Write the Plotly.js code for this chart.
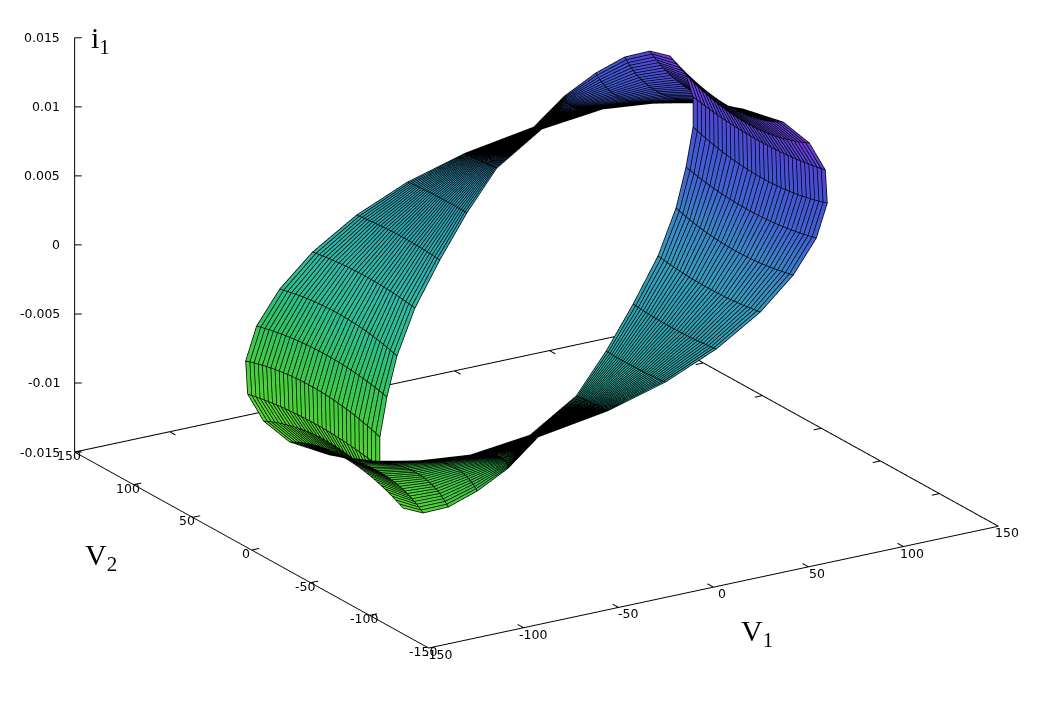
<!DOCTYPE html>
<html><head><meta charset="utf-8">
<script src="https://cdn.plot.ly/plotly-3.0.1.min.js"></script>
<style>html,body{margin:0;padding:0;background:#fff}#plot{width:1050px;height:716px}</style>
</head><body><div id="plot"></div>
<script>
const sectionV1=[40,25,5,-15,-35,-48,-56,-62,-64,-67,-72,-78,-80,-72,-56,-40,-25,-5,15,35,48,56,62,64,67,72,78,80,72,56,40];
const edgeAV2=[66.7,100.3,117.2,128.3,133.4,140.4,147.1,146.7,141.8,123.4,93.2,49.5,16.6,-8.8,-33.9,-59.0,-73.9,-67.1,-57.8,-46.7,-41.0,-36.6,-32.9,-29.7,-18.9,2.8,29.5,54.0,65.7,66.2,66.7];
const middleV2=[63.3,88.4,92.6,92.6,89.2,88.6,91.0,89.8,85.7,71.5,46.5,4.5,-25.9,-42.7,-57.7,-62.4,-88.4,-92.6,-92.6,-89.2,-88.6,-91.0,-89.8,-85.7,-71.5,-46.5,-4.5,25.9,42.7,57.7,63.3];
const edgeBV2=[59.9,73.9,67.1,57.8,46.7,41.0,36.6,32.9,29.7,18.9,-2.8,-29.5,-54.0,-65.7,-66.2,-65.8,-100.3,-117.2,-128.3,-133.4,-140.4,-147.1,-146.7,-141.8,-123.4,-93.2,-49.5,-16.6,8.8,33.9,59.9];
const edgeAI1=[.00689,.00386,.00156,-.00078,-.00311,-.00574,-.00850,-.01084,-.01294,-.01394,-.01388,-.01258,-.01140,-.01051,-.00928,-.00712,-.00402,-.00168,.00070,.00307,.00589,.00841,.01096,.01293,.01392,.01412,.01304,.01139,.00991,.00870,.00689];
const middleI1=[.00699,.00385,.00170,-.00054,-.00275,-.00517,-.00780,-.01003,-.01239,-.01286,-.01283,-.01183,-.01019,-.00912,-.00822,-.00703,-.00385,-.00170,.00054,.00275,.00517,.00780,.01003,.01239,.01286,.01283,.01183,.01019,.00912,.00822,.00699];
const edgeBI1=[.00707,.00402,.00168,-.00070,-.00307,-.00589,-.00841,-.01096,-.01293,-.01392,-.01412,-.01304,-.01139,-.00991,-.00870,-.00693,-.00386,-.00156,.00078,.00311,.00574,.00850,.01084,.01294,.01394,.01388,.01258,.01140,.01051,.00928,.00707];
const rowsAcross=33;
const tickV=[-150,-100,-50,0,50,100,150];
const tickI=[-0.015,-0.01,-0.005,0,0.005,0.01,0.015];
const tickITexts=['-0.015','-0.01','-0.005','0','0.005','0.01','0.015'];
const colorStops=[[0,'#58d832'],[.018,'#55d732'],[.113,'#46cd3c'],[.218,'#32c364'],[.30,'#2dbe8c'],[.394,'#32b9a5'],[.5,'#2da5af'],[.606,'#379bbe'],[.70,'#3c82c8'],[.782,'#4164d2'],[.887,'#4450d2'],[.954,'#5544d6'],[.982,'#6a3edc'],[1,'#703ce0']];

function across(a,m,b,t){return a*(1-t)*(1-2*t)+4*m*t*(1-t)+b*t*(2*t-1);}
const X=[],Y=[],Z=[];
for(let r=0;r<rowsAcross;r++){
  const t=r/(rowsAcross-1);const xr=[],yr=[],zr=[];
  for(let k=0;k<sectionV1.length;k++){
    xr.push(sectionV1[k]);
    yr.push(across(edgeAV2[k],middleV2[k],edgeBV2[k],t));
    zr.push(across(edgeAI1[k],middleI1[k],edgeBI1[k],t));
  }
  X.push(xr);Y.push(yr);Z.push(zr);
}
const eyeDir={x:-.4955,y:-.7976,z:.344};
const lift=0.004;
const dx=eyeDir.x*lift*300/1.8736,dy=eyeDir.y*lift*300/1.8736,dz=eyeDir.z*lift*.03/1.2324;
const lx=[],ly=[],lz=[];
for(let r=0;r<rowsAcross;r++){
  for(let k=0;k<sectionV1.length;k++){lx.push(X[r][k]+dx);ly.push(Y[r][k]+dy);lz.push(Z[r][k]+dz);}
  lx.push(null);ly.push(null);lz.push(null);
}
for(let k=0;k<sectionV1.length;k++){
  for(let r=0;r<rowsAcross;r++){lx.push(X[r][k]+dx);ly.push(Y[r][k]+dy);lz.push(Z[r][k]+dz);}
  lx.push(null);ly.push(null);lz.push(null);
}
const fx=[],fy=[],fz=[];
function seg(a,b,c,d,e,f){fx.push(a,d,null);fy.push(b,e,null);fz.push(c,f,null);}
const zb=-.015;
seg(-150,150,zb,150,150,zb);seg(150,150,zb,150,-150,zb);
tickV.slice(1,-1).forEach(v=>{
  seg(v,-150,zb,v,-145,zb);
  seg(v,150,zb,v,145,zb);
  seg(-150,v,zb,-146,v,zb);
  seg(150,v,zb,146,v,zb);
});
tickI.forEach(v=>{seg(-150,150,v,-147.3,148.3,v);});
const traces=[
 {type:'surface',x:X,y:Y,z:Z,cmin:-.0142,cmax:.0142,colorscale:colorStops,showscale:false,
  lighting:{ambient:1,diffuse:0,specular:0,fresnel:0,roughness:1},hoverinfo:'skip'},
 {type:'scatter3d',mode:'lines',x:lx,y:ly,z:lz,connectgaps:false,line:{color:'#000',width:1.5},hoverinfo:'skip'},
 {type:'scatter3d',mode:'lines',x:fx,y:fy,z:fz,connectgaps:false,line:{color:'#000',width:2},hoverinfo:'skip'}
];
const tf={family:'DejaVu Sans',size:12.5,color:'#000'};
const ann=[];
tickV.forEach(v=>{ann.push({x:v,y:-150,z:-.015,text:String(v),showarrow:false,font:tf,xanchor:'center',yanchor:'middle',xshift:9,yshift:-6.5});});
tickV.forEach(v=>{ann.push({x:-150,y:v,z:-.015,text:String(v),showarrow:false,font:tf,xanchor:'center',yanchor:'middle',xshift:-6,yshift:-3.5});});
tickI.forEach((v,i)=>{ann.push({x:-150,y:150,z:v,text:tickITexts[i],showarrow:false,font:tf,xanchor:'right',yanchor:'middle',xshift:-13});});
const ax=(vals,txt,rng)=>({range:rng,tickvals:vals,ticktext:txt,showgrid:false,zeroline:false,showbackground:false,showspikes:false,
  showline:true,linecolor:'#000',linewidth:2,ticks:'',showticklabels:false,title:{text:''}});
const tt=tickV.map(String);
const layout={width:1050,height:716,margin:{l:0,r:0,t:0,b:0},paper_bgcolor:'#fff',showlegend:false,
 scene:{domain:{x:[0,1],y:[0,1]},aspectmode:'manual',aspectratio:{x:1.8736,y:1.8736,z:1.2324},
  camera:{projection:{type:'orthographic'},up:{x:0,y:0,z:1},center:{x:-.0658,y:-.0451,z:-.1993},eye:{x:-2.0478,y:-3.2355,z:1.1767}},
  xaxis:ax(tickV,tt,[-150,150]),yaxis:ax(tickV,tt,[-150,150]),zaxis:ax(tickI,tickITexts,[-.015,.015]),
  annotations:ann},
 annotations:[
  {xref:'paper',yref:'paper',x:739/1050,y:1-633/716,xanchor:'left',yanchor:'middle',text:'V<sub>1</sub>',showarrow:false,font:{family:'Liberation Serif',size:30,color:'#000'}},
  {xref:'paper',yref:'paper',x:83/1050,y:1-557/716,xanchor:'left',yanchor:'middle',text:'V<sub>2</sub>',showarrow:false,font:{family:'Liberation Serif',size:30,color:'#000'}},
  {xref:'paper',yref:'paper',x:89/1050,y:1-40/716,xanchor:'left',yanchor:'middle',text:'i<sub>1</sub>',showarrow:false,font:{family:'Liberation Serif',size:30,color:'#000'}}
 ]};
Plotly.newPlot('plot',traces,layout,{displayModeBar:false});
</script></body></html>
